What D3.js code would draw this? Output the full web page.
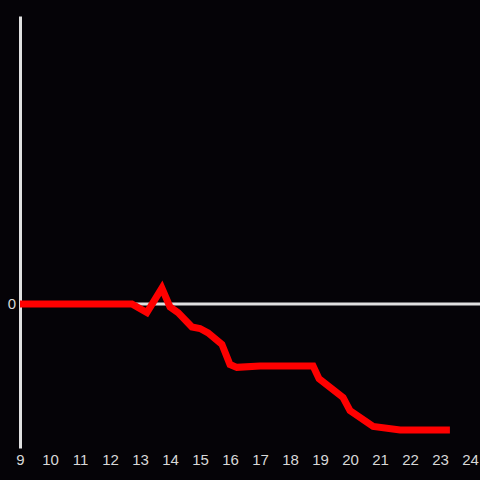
<!DOCTYPE html>
<html>
<head>
<meta charset="utf-8">
<script src="https://cdn.jsdelivr.net/npm/d3@7"></script>
<style>
  html, body { margin: 0; padding: 0; background: #050307; }
  svg { display: block; }
</style>
</head>
<body>
<div id="Vis"></div>
<script>
// data
var hours  = [9, 12.73, 13.23, 13.73, 14.0, 14.27, 14.73, 15.0, 15.27, 15.73, 16.0, 16.23, 17.0, 18.77, 18.97, 19.77, 20.0, 20.77, 21.67, 23.33];
var values = [0, 0, -0.06, 0.11, -0.02, -0.06, -0.16, -0.17, -0.2, -0.28, -0.42, -0.44, -0.43, -0.43, -0.52, -0.65, -0.74, -0.85, -0.875, -0.875];
var xTicks = [9, 10, 11, 12, 13, 14, 15, 16, 17, 18, 19, 20, 21, 22, 23, 24];
var yTicks = [0];

var width = 480, height = 480;

var svg = d3.select("#Vis")
  .append("svg")
    .attr("width", width)
    .attr("height", height);

svg.append("rect")
  .attr("width", width)
  .attr("height", height)
  .attr("fill", "#050307");

var x = d3.scaleLinear().domain([9, 24]).range([20, 470]);
var y = d3.scaleLinear().domain([-1, 2]).range([448, 16]);

var axisColor = "#e0e0e0";
var font = "'Liberation Sans', Arial, sans-serif";

// zero line
svg.append("line")
  .attr("x1", x(9))
  .attr("x2", width)
  .attr("y1", y(0))
  .attr("y2", y(0))
  .attr("stroke", axisColor)
  .attr("stroke-width", 3);

// y axis
var yAxis = svg.append("g")
  .attr("transform", "translate(" + x(9) + ",0)")
  .call(d3.axisLeft(y).tickValues(yTicks).tickFormat(d3.format("d")).tickSize(0).tickPadding(4));
yAxis.select(".domain")
  .attr("stroke", axisColor)
  .attr("stroke-width", 3);
yAxis.selectAll("text")
  .attr("fill", "#d8d8d8")
  .attr("font-size", "15px")
  .attr("font-family", font);

// x axis (labels only)
var xAxis = svg.append("g")
  .attr("transform", "translate(0,452)")
  .call(d3.axisBottom(x).tickValues(xTicks).tickFormat(d3.format("d")).tickSize(0).tickPadding(2));
xAxis.select(".domain").remove();
xAxis.selectAll("text")
  .attr("fill", "#d8d8d8")
  .attr("font-size", "15px")
  .attr("font-family", font);

// the red line
var data = hours.map(function(h, i) { return { h: h, v: values[i] }; });
svg.append("path")
  .datum(data)
  .attr("fill", "none")
  .attr("stroke", "#ff0000")
  .attr("stroke-width", 7)
  .attr("d", d3.line()
    .x(function(d) { return x(d.h); })
    .y(function(d) { return y(d.v); })
  );
</script>
</body>
</html>
